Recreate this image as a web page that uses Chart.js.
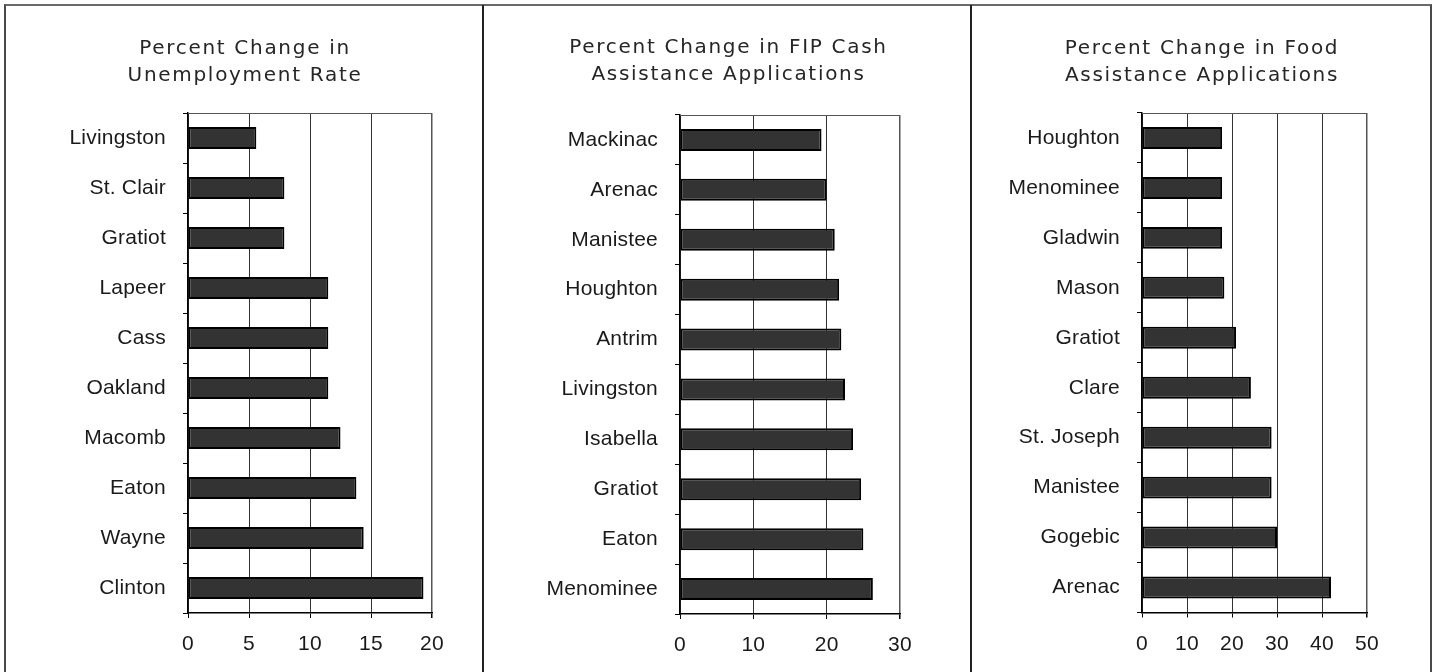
<!DOCTYPE html>
<html>
<head>
<meta charset="utf-8">
<script src="https://cdn.jsdelivr.net/npm/chart.js@4.4.1/dist/chart.umd.min.js"></script>
<style>
  html, body { margin: 0; padding: 0; background: #ffffff; }
  body { width: 1435px; height: 672px; position: relative; overflow: hidden; }
  .frame { position: absolute; left: 4px; top: 4px; width: 1424px; height: 680px;
           border-top: 2px solid #6a6a6a; border-left: 2px solid #4a4a4a; border-right: 2px solid #4a4a4a; }
  .divider { position: absolute; top: 5px; width: 2px; height: 680px; background: #222; }
  canvas { position: absolute; }
</style>
</head>
<body>
<div class="frame"></div>
<div class="divider" style="left:482px"></div>
<div class="divider" style="left:970px"></div>
<canvas id="c1" width="476" height="666" style="left:6px;top:6px"></canvas>
<canvas id="c2" width="485" height="666" style="left:485px;top:6px"></canvas>
<canvas id="c3" width="456" height="666" style="left:973px;top:6px"></canvas>
<script>
// ---- data ----
const unempTitle = ['Percent Change in', 'Unemployment Rate'];
const unempCounties = ['Livingston', 'St. Clair', 'Gratiot', 'Lapeer', 'Cass', 'Oakland', 'Macomb', 'Eaton', 'Wayne', 'Clinton'];
const unempValues = [5.6, 7.9, 7.9, 11.5, 11.5, 11.5, 12.5, 13.8, 14.4, 19.3];
const unempTicks = [0, 5, 10, 15, 20];

const fipTitle = ['Percent Change in FIP Cash', 'Assistance Applications'];
const fipCounties = ['Mackinac', 'Arenac', 'Manistee', 'Houghton', 'Antrim', 'Livingston', 'Isabella', 'Gratiot', 'Eaton', 'Menominee'];
const fipValues = [19.3, 20.0, 21.1, 21.7, 22.0, 22.5, 23.6, 24.7, 25.0, 26.3];
const fipTicks = [0, 10, 20, 30];

const foodTitle = ['Percent Change in Food', 'Assistance Applications'];
const foodCounties = ['Houghton', 'Menominee', 'Gladwin', 'Mason', 'Gratiot', 'Clare', 'St. Joseph', 'Manistee', 'Gogebic', 'Arenac'];
const foodValues = [17.8, 17.8, 17.8, 18.3, 20.9, 24.2, 28.8, 28.8, 30.0, 42.0];
const foodTicks = [0, 10, 20, 30, 40, 50];

// ---- styling helpers ----
const TICK_SPACING = '0.2px';
const TITLE_SPACING = '1.7px';

const stylePlugin = {
  id: 'stylePlugin',
  afterInit(chart) {
    const tb = chart.titleBlock;
    if (tb && !tb._spaced) {
      const orig = tb.draw.bind(tb);
      tb.draw = function () {
        const ctx = chart.ctx;
        ctx.save();
        ctx.letterSpacing = TITLE_SPACING;
        // center the title across the whole panel, not just the padded box
        const dx = chart.width / 2 - (tb.left + tb.right) / 2 + 1;
        ctx.translate(dx, 0);
        orig();
        ctx.restore();
      };
      tb._spaced = true;
    }
  },
  beforeUpdate(chart) { chart.ctx.letterSpacing = TICK_SPACING; },
  beforeDraw(chart) { chart.ctx.letterSpacing = TICK_SPACING; },
  afterDraw(chart) {
    const a = chart.chartArea, ctx = chart.ctx;
    ctx.save();
    ctx.strokeStyle = '#555';
    ctx.lineWidth = 1;
    ctx.beginPath();
    ctx.moveTo(a.left, a.top + 0.5);
    ctx.lineTo(a.right, a.top + 0.5);
    ctx.stroke();
    ctx.restore();
  }
};

function makeChart(id, title, labels, values, ticks, L) {
  const tickFont = { family: "'Liberation Sans', Arial, sans-serif", size: 21 };
  const maxV = ticks[ticks.length - 1];
  return new Chart(document.getElementById(id), {
    type: 'bar',
    data: {
      labels: labels,
      datasets: [{
        data: values,
        backgroundColor: '#333333',
        borderColor: '#000000',
        borderWidth: 2,
        borderSkipped: false,
        barPercentage: 0.88,
        categoryPercentage: 0.5
      }]
    },
    plugins: [stylePlugin],
    options: {
      indexAxis: 'y',
      responsive: false,
      animation: false,
      devicePixelRatio: 1,
      layout: { padding: { left: 0, right: L.padRight, top: 0, bottom: 0 } },
      plugins: {
        legend: { display: false },
        tooltip: { enabled: false },
        title: {
          display: true,
          text: title,
          color: '#262626',
          font: { family: "'DejaVu Sans', sans-serif", size: 20, weight: 'normal', lineHeight: 27 / 20 },
          padding: { top: L.titleTop, bottom: L.titleBottom }
        }
      },
      scales: {
        x: {
          type: 'linear',
          min: 0,
          max: maxV,
          afterBuildTicks(scale) { scale.ticks = ticks.map(v => ({ value: v })); },
          afterFit(scale) { scale.height = L.xHeight; },
          grid: {
            color: (c) => (c.tick && c.tick.value === maxV) ? '#555' : '#333',
            lineWidth: (c) => (c.tick && c.tick.value === maxV) ? 1.5 : 1,
            tickLength: 5,
            tickColor: '#000',
            drawTicks: true
          },
          border: { display: true, color: '#000', width: 1.5 },
          ticks: { color: '#1a1a1a', font: tickFont, padding: 14, maxRotation: 0 }
        },
        y: {
          type: 'category',
          afterFit(scale) { scale.width = L.yWidth; },
          grid: {
            offset: true,
            drawOnChartArea: false,
            drawTicks: true,
            tickLength: 5,
            tickColor: '#000'
          },
          border: { display: true, color: '#000', width: 1.5 },
          ticks: { color: '#1a1a1a', font: tickFont, padding: 17, autoSkip: false }
        }
      }
    }
  });
}

makeChart('c1', unempTitle, unempCounties, unempValues, unempTicks,
  { padRight: 50, titleTop: 29.5, titleBottom: 23.5, xHeight: 59, yWidth: 182 });
makeChart('c2', fipTitle, fipCounties, fipValues, fipTicks,
  { padRight: 70, titleTop: 28.5, titleBottom: 26.5, xHeight: 58, yWidth: 195 });
makeChart('c3', foodTitle, foodCounties, foodValues, foodTicks,
  { padRight: 62, titleTop: 29.5, titleBottom: 23.5, xHeight: 59.5, yWidth: 169 });
</script>
</body>
</html>
